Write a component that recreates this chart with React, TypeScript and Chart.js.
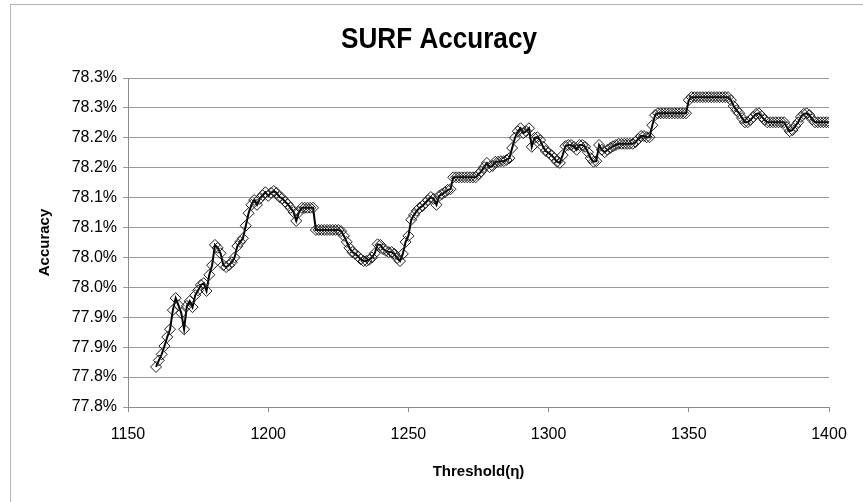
import React, { useEffect, useRef } from "react";
import { Chart, registerables } from "chart.js";

Chart.register(...registerables);

// ---- Data (accuracy in %, one value per integer threshold starting at 1160) ----
const FIRST_THRESHOLD = 1160;

const acc1160s = [77.817, 77.828, 77.838, 77.852, 77.867, 77.880, 77.912, 77.932, 77.920, 77.907];
const acc1170s = [77.880, 77.919, 77.927, 77.917, 77.937, 77.945, 77.954, 77.957, 77.944, 77.971];
const acc1180s = [77.987, 78.021, 78.016, 78.007, 77.987, 77.984, 77.987, 77.992, 78.000, 78.019];
const acc1190s = [78.026, 78.032, 78.053, 78.074, 78.088, 78.096, 78.088, 78.098, 78.104, 78.109];
const acc1200s = [78.103, 78.108, 78.111, 78.108, 78.101, 78.099, 78.093, 78.089, 78.083, 78.076];
const acc1210s = [78.061, 78.076, 78.083, 78.083, 78.083, 78.083, 78.083, 78.046, 78.046, 78.046];
const acc1220s = [78.046, 78.046, 78.046, 78.046, 78.046, 78.046, 78.044, 78.036, 78.026, 78.016];
const acc1230s = [78.009, 78.006, 78.002, 77.997, 77.994, 77.994, 77.996, 78.000, 78.007, 78.022];
const acc1240s = [78.021, 78.014, 78.011, 78.009, 78.009, 78.006, 77.999, 77.994, 78.006, 78.026];
const acc1250s = [78.036, 78.063, 78.071, 78.078, 78.083, 78.086, 78.091, 78.096, 78.101, 78.098];
const acc1260s = [78.088, 78.103, 78.106, 78.109, 78.113, 78.114, 78.134, 78.134, 78.134, 78.134];
const acc1270s = [78.134, 78.134, 78.134, 78.134, 78.134, 78.139, 78.144, 78.151, 78.158, 78.151];
const acc1280s = [78.153, 78.160, 78.160, 78.161, 78.161, 78.163, 78.166, 78.183, 78.200, 78.211];
const acc1290s = [78.216, 78.208, 78.211, 78.216, 78.185, 78.200, 78.201, 78.196, 78.185, 78.178];
const acc1300s = [78.175, 78.171, 78.166, 78.160, 78.158, 78.171, 78.186, 78.188, 78.188, 78.185];
const acc1310s = [78.180, 78.188, 78.188, 78.185, 78.176, 78.166, 78.160, 78.161, 78.188, 78.180];
const acc1320s = [78.176, 78.180, 78.183, 78.186, 78.188, 78.190, 78.190, 78.190, 78.190, 78.190];
const acc1330s = [78.190, 78.193, 78.198, 78.203, 78.203, 78.201, 78.201, 78.221, 78.238, 78.241];
const acc1340s = [78.241, 78.241, 78.241, 78.241, 78.241, 78.241, 78.241, 78.241, 78.241, 78.241];
const acc1350s = [78.263, 78.268, 78.268, 78.268, 78.268, 78.268, 78.268, 78.268, 78.268, 78.268];
const acc1360s = [78.268, 78.268, 78.268, 78.268, 78.268, 78.263, 78.253, 78.246, 78.241, 78.233];
const acc1370s = [78.226, 78.226, 78.230, 78.235, 78.240, 78.241, 78.236, 78.230, 78.226, 78.226];
const acc1380s = [78.226, 78.226, 78.226, 78.226, 78.226, 78.218, 78.211, 78.213, 78.220, 78.226];
const acc1390s = [78.235, 78.240, 78.241, 78.238, 78.231, 78.226, 78.226, 78.226, 78.226, 78.226];
const acc1400 = [78.226];

const accuracy = [
  ...acc1160s, ...acc1170s, ...acc1180s, ...acc1190s, ...acc1200s, ...acc1210s,
  ...acc1220s, ...acc1230s, ...acc1240s, ...acc1250s, ...acc1260s, ...acc1270s,
  ...acc1280s, ...acc1290s, ...acc1300s, ...acc1310s, ...acc1320s, ...acc1330s,
  ...acc1340s, ...acc1350s, ...acc1360s, ...acc1370s, ...acc1380s, ...acc1390s,
  ...acc1400,
];
const thresholds = accuracy.map((_, i) => FIRST_THRESHOLD + i);

const xTickValues = [1150, 1200, 1250, 1300, 1350, 1400];
const yTickValues = [77.75, 77.8, 77.85, 77.9, 77.95, 78.0, 78.05, 78.1, 78.15, 78.2, 78.25, 78.3];
const yTickLabels = ["77.8%", "77.8%", "77.9%", "77.9%", "78.0%", "78.0%", "78.1%", "78.1%", "78.2%", "78.2%", "78.3%", "78.3%"];

const TITLE = "SURF Accuracy";
const X_TITLE = "Threshold(\u03b7)";
const Y_TITLE = "Accuracy";

const FONT = "'Liberation Sans', Arial, sans-serif";

const frame = {
  id: "frame",
  beforeDraw(chart: any) {
    const ctx = chart.ctx;
    ctx.save();
    ctx.fillStyle = "#ffffff";
    ctx.fillRect(0, 0, chart.width, chart.height);
    ctx.strokeStyle = "#b4b4b4";
    ctx.lineWidth = 1;
    ctx.strokeRect(10.5, 4.5, chart.width + 20, chart.height + 20);
    ctx.restore();
  },
};

// Chart title, centred over the whole chart object (Excel style), slightly condensed
const chartTitle = {
  id: "chartTitle",
  afterDraw(chart: any) {
    const ctx = chart.ctx;
    ctx.save();
    ctx.font = `bold 29px ${FONT}`;
    ctx.fillStyle = "#000000";
    ctx.textAlign = "center";
    ctx.textBaseline = "alphabetic";
    ctx.translate(439, 48);
    ctx.scale(0.9, 1);
    ctx.fillText(TITLE, 0, 0);
    ctx.restore();
  },
};

export default function App() {
  const ref = useRef<HTMLCanvasElement | null>(null);

  useEffect(() => {
    if (!ref.current) return;
    const chart = new Chart(ref.current, {
      type: "line",
      data: {
        datasets: [
          {
            label: "Accuracy",
            data: thresholds.map((t, i) => ({ x: t, y: accuracy[i] })),
            borderColor: "#000000",
            borderWidth: 2,
            pointStyle: "rectRot",
            pointRadius: 5.5,
            pointBorderWidth: 1,
            pointBorderColor: "#1e1e1e",
            pointBackgroundColor: "rgba(0,0,0,0)",
            tension: 0,
            fill: false,
          },
        ],
      },
      options: {
        animation: false,
        responsive: false,
        events: [],
        layout: { padding: { left: 10, right: 34, top: 78, bottom: 10 } },
        plugins: {
          legend: { display: false },
          tooltip: { enabled: false },
          title: { display: false },
        },
        scales: {
          x: {
            type: "linear",
            min: 1150,
            max: 1400,
            afterBuildTicks: (scale: any) => {
              scale.ticks = xTickValues.map((v) => ({ value: v }));
            },
            afterFit: (scale: any) => {
              scale.height = 85;
            },
            ticks: {
              color: "#000000",
              font: { family: FONT, size: 16 },
              padding: 13,
              maxRotation: 0,
              callback: (v: any) => String(v),
            },
            grid: {
              drawOnChartArea: false,
              drawTicks: true,
              tickLength: 5,
              color: "#8c8c8c",
            },
            border: { color: "#8c8c8c", width: 1 },
            title: {
              display: true,
              text: X_TITLE,
              color: "#000000",
              font: { family: FONT, size: 15, weight: "bold" },
              padding: { top: 0, bottom: 11 },
            },
          },
          y: {
            type: "linear",
            min: 77.75,
            max: 78.3,
            afterBuildTicks: (scale: any) => {
              scale.ticks = yTickValues.map((v) => ({ value: v }));
            },
            afterFit: (scale: any) => {
              scale.width = 118;
            },
            ticks: {
              color: "#000000",
              font: { family: FONT, size: 16 },
              padding: 6,
              callback: (_v: any, i: number) => yTickLabels[i],
            },
            grid: {
              drawOnChartArea: true,
              drawTicks: true,
              tickLength: 5,
              color: "#9a9a9a",
            },
            border: { color: "#8c8c8c", width: 1 },
            title: {
              display: true,
              text: Y_TITLE,
              color: "#000000",
              font: { family: FONT, size: 15, weight: "bold" },
              padding: { top: 26, bottom: 0 },
            },
          },
        },
      },
      plugins: [frame, chartTitle],
    } as any);
    return () => chart.destroy();
  }, []);

  return (
    <div style={{ position: "absolute", left: 0, top: 0, width: 863, height: 502, background: "#fff" }}>
      <canvas ref={ref} width={863} height={502} />
    </div>
  );
}
